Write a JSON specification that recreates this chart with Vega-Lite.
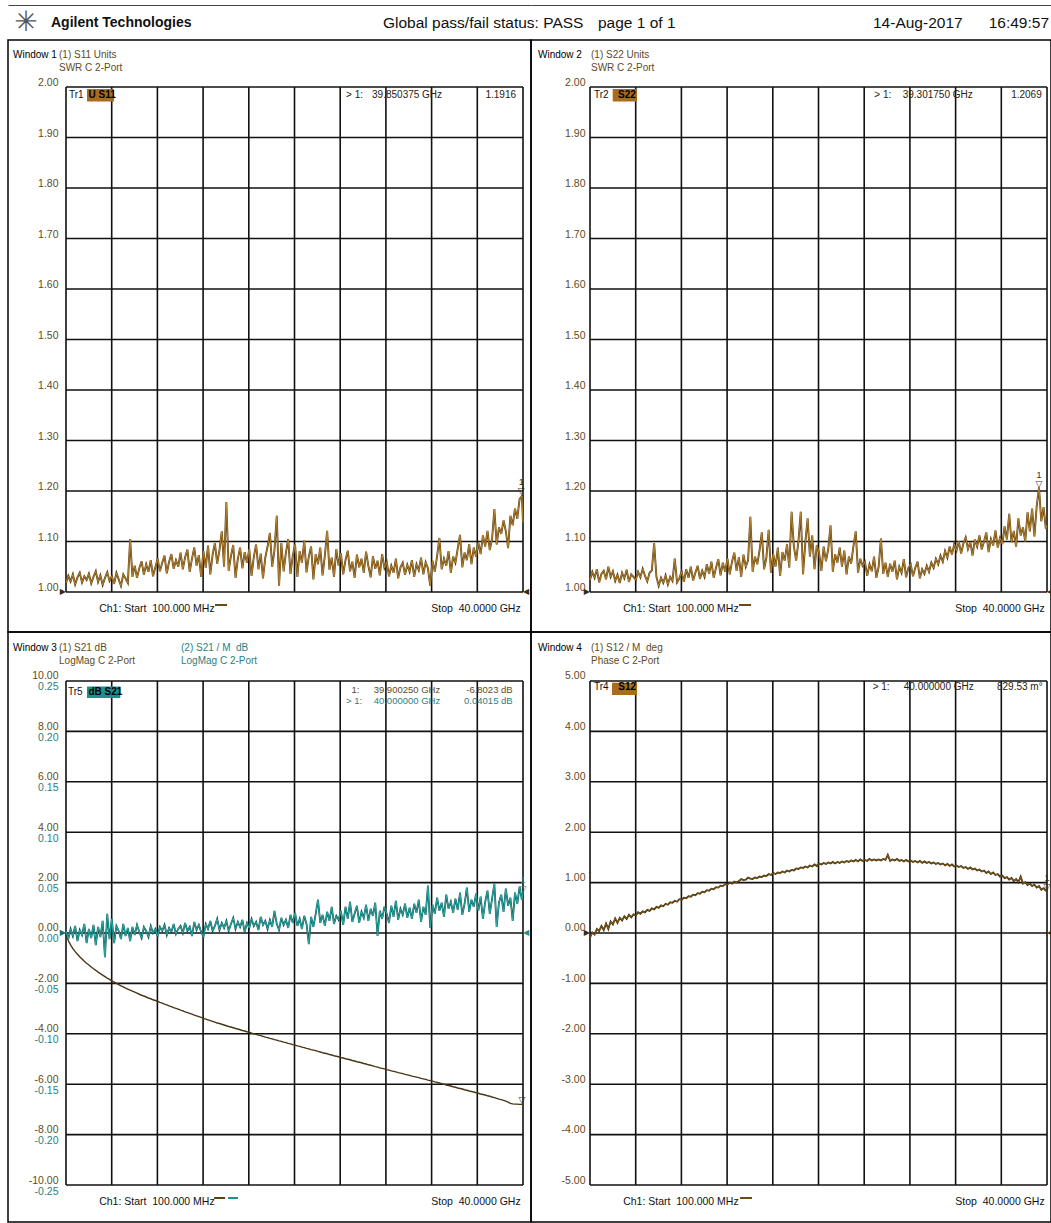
{
"$schema": "https://vega.github.io/schema/vega-lite/v6.json",
"background": "white",
"padding": {"left": 7, "top": 5, "right": 0, "bottom": 0},
"bounds": "flush",
"spacing": 0,
"columns": 2,
"config": {
  "font": "Liberation Sans",
  "view": {"stroke": "#000", "strokeWidth": 1.5},
  "axis": {"grid": false, "ticks": false, "domain": false, "labelFontSize": 10.5, "labelFont": "Liberation Sans"},
  "concat": {"spacing": 0}
},
"datasets": {
  "xgrid": [{"f":0.1},{"f":4.09},{"f":8.08},{"f":12.07},{"f":16.06},{"f":20.05},{"f":24.04},{"f":28.03},{"f":32.02},{"f":36.01},{"f":40}],
  "swrgrid": [{"v":1},{"v":1.1},{"v":1.2},{"v":1.3},{"v":1.4},{"v":1.5},{"v":1.6},{"v":1.7},{"v":1.8},{"v":1.9},{"v":2}],
  "dbgrid": [{"v":-10},{"v":-8},{"v":-6},{"v":-4},{"v":-2},{"v":0},{"v":2},{"v":4},{"v":6},{"v":8},{"v":10}],
  "deggrid": [{"v":-5},{"v":-4},{"v":-3},{"v":-2},{"v":-1},{"v":0},{"v":1},{"v":2},{"v":3},{"v":4},{"v":5}],
  "traces": [
{"f":0.1,"s11":1.018,"s22":1.024,"s21":-0.05,"s21m":0.002,"s12":-0.09},
{"f":0.3,"s11":1.032,"s22":1.04,"s21":-0.3,"s21m":-0.006,"s12":0.01},
{"f":0.5,"s11":1.021,"s22":1.028,"s21":-0.47,"s21m":0.004,"s12":-0.03},
{"f":0.7,"s11":1.035,"s22":1.045,"s21":-0.62,"s21m":-0.003,"s12":0.08},
{"f":0.9,"s11":1.015,"s22":1.019,"s21":-0.74,"s21m":0.007,"s12":0.04},
{"f":1.1,"s11":1.029,"s22":1.036,"s21":-0.84,"s21m":-0.008,"s12":0.14},
{"f":1.3,"s11":1.038,"s22":1.042,"s21":-0.94,"s21m":0.003,"s12":0.06},
{"f":1.5,"s11":1.019,"s22":1.025,"s21":-1.03,"s21m":-0.002,"s12":0.19},
{"f":1.7,"s11":1.031,"s22":1.05,"s21":-1.12,"s21m":0.009,"s12":0.08},
{"f":1.9,"s11":1.024,"s22":1.03,"s21":-1.2,"s21m":-0.01,"s12":0.23},
{"f":2.1,"s11":1.036,"s22":1.041,"s21":-1.27,"s21m":0.004,"s12":0.17},
{"f":2.3,"s11":1.017,"s22":1.022,"s21":-1.35,"s21m":-0.005,"s12":0.29},
{"f":2.5,"s11":1.03,"s22":1.034,"s21":-1.42,"s21m":0.008,"s12":0.2},
{"f":2.7,"s11":1.041,"s22":1.018,"s21":-1.48,"s21m":-0.012,"s12":0.3},
{"f":2.9,"s11":1.02,"s22":1.038,"s21":-1.55,"s21m":0.006,"s12":0.25},
{"f":3.1,"s11":1.033,"s22":1.027,"s21":-1.61,"s21m":-0.004,"s12":0.33},
{"f":3.3,"s11":1.014,"s22":1.044,"s21":-1.67,"s21m":0.012,"s12":0.28},
{"f":3.5,"s11":1.028,"s22":1.02,"s21":-1.73,"s21m":-0.024,"s12":0.36},
{"f":3.7,"s11":1.039,"s22":1.035,"s21":-1.79,"s21m":0.019,"s12":0.31},
{"f":3.9,"s11":1.022,"s22":1.03,"s21":-1.84,"s21m":-0.006,"s12":0.37},
{"f":4.1,"s11":1.031,"s22":1.024,"s21":-1.9,"s21m":0.014,"s12":0.35},
{"f":4.3,"s11":1.016,"s22":1.04,"s21":-1.95,"s21m":-0.01,"s12":0.41},
{"f":4.5,"s11":1.038,"s22":1.029,"s21":-2,"s21m":0.007,"s12":0.38},
{"f":4.7,"s11":1.025,"s22":1.046,"s21":-2.05,"s21m":0.002,"s12":0.43},
{"f":4.9,"s11":1.012,"s22":1.032,"s21":-2.1,"s21m":-0.006,"s12":0.41},
{"f":5.1,"s11":1.035,"s22":1.021,"s21":-2.14,"s21m":0.009,"s12":0.46},
{"f":5.3,"s11":1.027,"s22":1.038,"s21":-2.19,"s21m":-0.003,"s12":0.44},
{"f":5.5,"s11":1.018,"s22":1.043,"s21":-2.23,"s21m":0.005,"s12":0.49},
{"f":5.7,"s11":1.105,"s22":1.097,"s21":-2.27,"s21m":-0.008,"s12":0.47},
{"f":5.9,"s11":1.03,"s22":1.03,"s21":-2.31,"s21m":0.006,"s12":0.52},
{"f":6.1,"s11":1.052,"s22":1.012,"s21":-2.35,"s21m":-0.002,"s12":0.5},
{"f":6.3,"s11":1.028,"s22":1.028,"s21":-2.39,"s21m":0.008,"s12":0.55},
{"f":6.5,"s11":1.047,"s22":1.018,"s21":-2.43,"s21m":0.001,"s12":0.53},
{"f":6.7,"s11":1.061,"s22":1.033,"s21":-2.47,"s21m":-0.005,"s12":0.58},
{"f":6.9,"s11":1.034,"s22":1.015,"s21":-2.5,"s21m":0.006,"s12":0.56},
{"f":7.1,"s11":1.055,"s22":1.03,"s21":-2.54,"s21m":0.002,"s12":0.61},
{"f":7.3,"s11":1.04,"s22":1.022,"s21":-2.58,"s21m":-0.004,"s12":0.6},
{"f":7.5,"s11":1.063,"s22":1.066,"s21":-2.61,"s21m":0.007,"s12":0.64},
{"f":7.7,"s11":1.031,"s22":1.019,"s21":-2.65,"s21m":0,"s12":0.62},
{"f":7.9,"s11":1.049,"s22":1.027,"s21":-2.68,"s21m":0.004,"s12":0.67},
{"f":8.1,"s11":1.066,"s22":1.04,"s21":-2.71,"s21m":-0.003,"s12":0.66},
{"f":8.3,"s11":1.041,"s22":1.02,"s21":-2.75,"s21m":0.006,"s12":0.7},
{"f":8.5,"s11":1.058,"s22":1.045,"s21":-2.78,"s21m":0.002,"s12":0.69},
{"f":8.7,"s11":1.072,"s22":1.028,"s21":-2.82,"s21m":0.008,"s12":0.73},
{"f":8.9,"s11":1.037,"s22":1.05,"s21":-2.85,"s21m":-0.002,"s12":0.72},
{"f":9.1,"s11":1.06,"s22":1.023,"s21":-2.89,"s21m":0.005,"s12":0.76},
{"f":9.3,"s11":1.075,"s22":1.038,"s21":-2.92,"s21m":0.001,"s12":0.75},
{"f":9.5,"s11":1.046,"s22":1.052,"s21":-2.96,"s21m":0.009,"s12":0.79},
{"f":9.7,"s11":1.063,"s22":1.026,"s21":-2.99,"s21m":-0.001,"s12":0.78},
{"f":9.9,"s11":1.05,"s22":1.042,"s21":-3.02,"s21m":0.004,"s12":0.82},
{"f":10.1,"s11":1.078,"s22":1.03,"s21":-3.06,"s21m":0.007,"s12":0.81},
{"f":10.3,"s11":1.045,"s22":1.055,"s21":-3.09,"s21m":0,"s12":0.85},
{"f":10.5,"s11":1.069,"s22":1.036,"s21":-3.13,"s21m":0.01,"s12":0.84},
{"f":10.7,"s11":1.084,"s22":1.06,"s21":-3.16,"s21m":0.002,"s12":0.88},
{"f":10.9,"s11":1.04,"s22":1.028,"s21":-3.19,"s21m":0.006,"s12":0.87},
{"f":11.1,"s11":1.066,"s22":1.048,"s21":-3.22,"s21m":-0.003,"s12":0.91},
{"f":11.3,"s11":1.088,"s22":1.065,"s21":-3.26,"s21m":0.011,"s12":0.9},
{"f":11.5,"s11":1.052,"s22":1.033,"s21":-3.29,"s21m":0.003,"s12":0.94},
{"f":11.7,"s11":1.073,"s22":1.058,"s21":-3.32,"s21m":0.008,"s12":0.93},
{"f":11.9,"s11":1.03,"s22":1.04,"s21":-3.35,"s21m":0.001,"s12":0.97},
{"f":12.1,"s11":1.081,"s22":1.066,"s21":-3.39,"s21m":-0.004,"s12":0.96},
{"f":12.3,"s11":1.048,"s22":1.035,"s21":-3.42,"s21m":0.009,"s12":1},
{"f":12.5,"s11":1.092,"s22":1.06,"s21":-3.45,"s21m":0.004,"s12":0.98},
{"f":12.7,"s11":1.035,"s22":1.078,"s21":-3.48,"s21m":0.012,"s12":1.02},
{"f":12.9,"s11":1.074,"s22":1.042,"s21":-3.51,"s21m":0.002,"s12":1},
{"f":13.1,"s11":1.097,"s22":1.069,"s21":-3.54,"s21m":0.007,"s12":1.03},
{"f":13.3,"s11":1.056,"s22":1.03,"s21":-3.57,"s21m":0.014,"s12":1.07},
{"f":13.5,"s11":1.083,"s22":1.074,"s21":-3.59,"s21m":0.003,"s12":1.05},
{"f":13.7,"s11":1.12,"s22":1.05,"s21":-3.62,"s21m":0.01,"s12":1.06},
{"f":13.9,"s11":1.05,"s22":1.063,"s21":-3.65,"s21m":0.005,"s12":1.1},
{"f":14.1,"s11":1.178,"s22":1.149,"s21":-3.68,"s21m":0.012,"s12":1.08},
{"f":14.3,"s11":1.042,"s22":1.04,"s21":-3.71,"s21m":0.002,"s12":1.07},
{"f":14.5,"s11":1.071,"s22":1.07,"s21":-3.73,"s21m":0.009,"s12":1.1},
{"f":14.7,"s11":1.093,"s22":1.055,"s21":-3.76,"s21m":0.015,"s12":1.09},
{"f":14.9,"s11":1.028,"s22":1.082,"s21":-3.79,"s21m":0.004,"s12":1.12},
{"f":15.1,"s11":1.065,"s22":1.118,"s21":-3.81,"s21m":0.011,"s12":1.11},
{"f":15.3,"s11":1.088,"s22":1.045,"s21":-3.84,"s21m":0.006,"s12":1.14},
{"f":15.5,"s11":1.047,"s22":1.068,"s21":-3.87,"s21m":0.013,"s12":1.13},
{"f":15.7,"s11":1.079,"s22":1.123,"s21":-3.89,"s21m":0.001,"s12":1.17},
{"f":15.9,"s11":1.058,"s22":1.038,"s21":-3.92,"s21m":0.01,"s12":1.15},
{"f":16.1,"s11":1.085,"s22":1.075,"s21":-3.94,"s21m":0.005,"s12":1.19},
{"f":16.3,"s11":1.032,"s22":1.05,"s21":-3.97,"s21m":0.014,"s12":1.17},
{"f":16.5,"s11":1.07,"s22":1.088,"s21":-4,"s21m":0.007,"s12":1.2},
{"f":16.7,"s11":1.094,"s22":1.032,"s21":-4.02,"s21m":0.011,"s12":1.19},
{"f":16.9,"s11":1.045,"s22":1.079,"s21":-4.05,"s21m":0.003,"s12":1.22},
{"f":17.1,"s11":1.076,"s22":1.062,"s21":-4.07,"s21m":0.016,"s12":1.2},
{"f":17.3,"s11":1.027,"s22":1.095,"s21":-4.1,"s21m":0.008,"s12":1.24},
{"f":17.5,"s11":1.068,"s22":1.048,"s21":-4.13,"s21m":0.012,"s12":1.22},
{"f":17.7,"s11":1.09,"s22":1.159,"s21":-4.15,"s21m":0.004,"s12":1.25},
{"f":17.9,"s11":1.117,"s22":1.09,"s21":-4.18,"s21m":0.013,"s12":1.24},
{"f":18.1,"s11":1.05,"s22":1.062,"s21":-4.2,"s21m":0.006,"s12":1.28},
{"f":18.3,"s11":1.083,"s22":1.101,"s21":-4.23,"s21m":0.022,"s12":1.27},
{"f":18.5,"s11":1.151,"s22":1.159,"s21":-4.25,"s21m":0.009,"s12":1.3},
{"f":18.7,"s11":1.012,"s22":1.035,"s21":-4.28,"s21m":0.003,"s12":1.29},
{"f":18.9,"s11":1.097,"s22":1.098,"s21":-4.3,"s21m":0.015,"s12":1.32},
{"f":19.1,"s11":1.041,"s22":1.146,"s21":-4.33,"s21m":0.008,"s12":1.3},
{"f":19.3,"s11":1.078,"s22":1.07,"s21":-4.35,"s21m":0.013,"s12":1.34},
{"f":19.5,"s11":1.105,"s22":1.112,"s21":-4.38,"s21m":0.005,"s12":1.32},
{"f":19.7,"s11":1.036,"s22":1.045,"s21":-4.4,"s21m":0.018,"s12":1.36},
{"f":19.9,"s11":1.072,"s22":1.093,"s21":-4.43,"s21m":0.01,"s12":1.33},
{"f":20.1,"s11":1.094,"s22":1.078,"s21":-4.45,"s21m":0.02,"s12":1.38},
{"f":20.3,"s11":1.03,"s22":1.042,"s21":-4.48,"s21m":0.007,"s12":1.36},
{"f":20.5,"s11":1.081,"s22":1.09,"s21":-4.5,"s21m":0.014,"s12":1.39},
{"f":20.7,"s11":1.058,"s22":1.061,"s21":-4.53,"s21m":0.004,"s12":1.37},
{"f":20.9,"s11":1.102,"s22":1.085,"s21":-4.55,"s21m":0.017,"s12":1.4},
{"f":21.1,"s11":1.039,"s22":1.132,"s21":-4.58,"s21m":0.009,"s12":1.38},
{"f":21.3,"s11":1.07,"s22":1.04,"s21":-4.6,"s21m":-0.011,"s12":1.41},
{"f":21.5,"s11":1.09,"s22":1.075,"s21":-4.63,"s21m":0.016,"s12":1.38},
{"f":21.7,"s11":1.025,"s22":1.058,"s21":-4.65,"s21m":0.006,"s12":1.41},
{"f":21.9,"s11":1.075,"s22":1.088,"s21":-4.67,"s21m":0.019,"s12":1.39},
{"f":22.1,"s11":1.055,"s22":1.05,"s21":-4.7,"s21m":0.033,"s12":1.42},
{"f":22.3,"s11":1.088,"s22":1.082,"s21":-4.72,"s21m":0.01,"s12":1.4},
{"f":22.5,"s11":1.033,"s22":1.035,"s21":-4.75,"s21m":0.018,"s12":1.43},
{"f":22.7,"s11":1.072,"s22":1.07,"s21":-4.77,"s21m":0.007,"s12":1.41},
{"f":22.9,"s11":1.121,"s22":1.056,"s21":-4.79,"s21m":0.021,"s12":1.44},
{"f":23.1,"s11":1.044,"s22":1.091,"s21":-4.82,"s21m":0.012,"s12":1.42},
{"f":23.3,"s11":1.068,"s22":1.12,"s21":-4.84,"s21m":0.026,"s12":1.45},
{"f":23.5,"s11":1.03,"s22":1.038,"s21":-4.87,"s21m":0.009,"s12":1.42},
{"f":23.7,"s11":1.085,"s22":1.066,"s21":-4.89,"s21m":0.017,"s12":1.46},
{"f":23.9,"s11":1.052,"s22":1.052,"s21":-4.91,"s21m":0.013,"s12":1.43},
{"f":24.1,"s11":1.077,"s22":1.06,"s21":-4.94,"s21m":0.022,"s12":1.45},
{"f":24.3,"s11":1.035,"s22":1.032,"s21":-4.96,"s21m":0.008,"s12":1.43},
{"f":24.5,"s11":1.063,"s22":1.055,"s21":-4.99,"s21m":0.026,"s12":1.47},
{"f":24.7,"s11":1.082,"s22":1.041,"s21":-5.01,"s21m":0.014,"s12":1.44},
{"f":24.9,"s11":1.041,"s22":1.07,"s21":-5.03,"s21m":0.031,"s12":1.46},
{"f":25.1,"s11":1.06,"s22":1.028,"s21":-5.06,"s21m":0.011,"s12":1.44},
{"f":25.3,"s11":1.028,"s22":1.05,"s21":-5.08,"s21m":0.019,"s12":1.46},
{"f":25.5,"s11":1.074,"s22":1.106,"s21":-5.11,"s21m":0.027,"s12":1.44},
{"f":25.7,"s11":1.049,"s22":1.036,"s21":-5.13,"s21m":0.01,"s12":1.47},
{"f":25.9,"s11":1.066,"s22":1.058,"s21":-5.15,"s21m":0.021,"s12":1.45},
{"f":26.1,"s11":1.038,"s22":1.03,"s21":-5.18,"s21m":0.015,"s12":1.55},
{"f":26.3,"s11":1.08,"s22":1.056,"s21":-5.2,"s21m":0.028,"s12":1.43},
{"f":26.5,"s11":1.052,"s22":1.04,"s21":-5.23,"s21m":0.012,"s12":1.46},
{"f":26.7,"s11":1.029,"s22":1.062,"s21":-5.25,"s21m":0.024,"s12":1.44},
{"f":26.9,"s11":1.071,"s22":1.025,"s21":-5.27,"s21m":0.017,"s12":1.47},
{"f":27.1,"s11":1.046,"s22":1.05,"s21":-5.3,"s21m":0.03,"s12":1.43},
{"f":27.3,"s11":1.062,"s22":1.038,"s21":-5.32,"s21m":-0.003,"s12":1.45},
{"f":27.5,"s11":1.033,"s22":1.065,"s21":-5.35,"s21m":0.022,"s12":1.42},
{"f":27.7,"s11":1.075,"s22":1.029,"s21":-5.37,"s21m":0.014,"s12":1.45},
{"f":27.9,"s11":1.048,"s22":1.048,"s21":-5.39,"s21m":0.026,"s12":1.42},
{"f":28.1,"s11":1.06,"s22":1.055,"s21":-5.42,"s21m":0.019,"s12":1.44},
{"f":28.3,"s11":1.031,"s22":1.031,"s21":-5.44,"s21m":0.01,"s12":1.41},
{"f":28.5,"s11":1.052,"s22":1.048,"s21":-5.47,"s21m":0.027,"s12":1.43},
{"f":28.7,"s11":1.038,"s22":1.06,"s21":-5.49,"s21m":0.016,"s12":1.4},
{"f":28.9,"s11":1.066,"s22":1.027,"s21":-5.51,"s21m":0.032,"s12":1.43},
{"f":29.1,"s11":1.027,"s22":1.045,"s21":-5.54,"s21m":0.013,"s12":1.39},
{"f":29.3,"s11":1.049,"s22":1.036,"s21":-5.56,"s21m":0.024,"s12":1.42},
{"f":29.5,"s11":1.058,"s22":1.052,"s21":-5.58,"s21m":0.018,"s12":1.39},
{"f":29.7,"s11":1.034,"s22":1.04,"s21":-5.61,"s21m":0.029,"s12":1.41},
{"f":29.9,"s11":1.054,"s22":1.058,"s21":-5.63,"s21m":0.015,"s12":1.38},
{"f":30.1,"s11":1.04,"s22":1.048,"s21":-5.65,"s21m":0.025,"s12":1.4},
{"f":30.3,"s11":1.063,"s22":1.066,"s21":-5.68,"s21m":0.014,"s12":1.37},
{"f":30.5,"s11":1.03,"s22":1.055,"s21":-5.7,"s21m":0.029,"s12":1.39},
{"f":30.7,"s11":1.055,"s22":1.072,"s21":-5.72,"s21m":0.02,"s12":1.36},
{"f":30.9,"s11":1.043,"s22":1.06,"s21":-5.74,"s21m":0.033,"s12":1.38},
{"f":31.1,"s11":1.068,"s22":1.081,"s21":-5.77,"s21m":0.011,"s12":1.34},
{"f":31.3,"s11":1.035,"s22":1.068,"s21":-5.79,"s21m":0.026,"s12":1.37},
{"f":31.5,"s11":1.059,"s22":1.09,"s21":-5.81,"s21m":0.018,"s12":1.33},
{"f":31.7,"s11":1.047,"s22":1.074,"s21":-5.84,"s21m":0.047,"s12":1.36},
{"f":31.9,"s11":1.012,"s22":1.095,"s21":-5.86,"s21m":0.005,"s12":1.32},
{"f":32.1,"s11":1.062,"s22":1.082,"s21":-5.88,"s21m":0.028,"s12":1.34},
{"f":32.3,"s11":1.04,"s22":1.1,"s21":-5.91,"s21m":0.019,"s12":1.31},
{"f":32.5,"s11":1.071,"s22":1.076,"s21":-5.93,"s21m":0.035,"s12":1.33},
{"f":32.7,"s11":1.107,"s22":1.096,"s21":-5.95,"s21m":0.022,"s12":1.29},
{"f":32.9,"s11":1.045,"s22":1.108,"s21":-5.98,"s21m":0.03,"s12":1.31},
{"f":33.1,"s11":1.066,"s22":1.085,"s21":-6,"s21m":0.016,"s12":1.27},
{"f":33.3,"s11":1.052,"s22":1.099,"s21":-6.03,"s21m":0.038,"s12":1.3},
{"f":33.5,"s11":1.081,"s22":1.072,"s21":-6.05,"s21m":0.024,"s12":1.26},
{"f":33.7,"s11":1.038,"s22":1.104,"s21":-6.07,"s21m":0.031,"s12":1.28},
{"f":33.9,"s11":1.07,"s22":1.09,"s21":-6.1,"s21m":0.02,"s12":1.24},
{"f":34.1,"s11":1.058,"s22":1.112,"s21":-6.12,"s21m":0.034,"s12":1.26},
{"f":34.3,"s11":1.086,"s22":1.084,"s21":-6.15,"s21m":0.023,"s12":1.22},
{"f":34.5,"s11":1.113,"s22":1.1,"s21":-6.17,"s21m":0.04,"s12":1.24},
{"f":34.7,"s11":1.049,"s22":1.118,"s21":-6.19,"s21m":0.018,"s12":1.19},
{"f":34.9,"s11":1.078,"s22":1.079,"s21":-6.22,"s21m":0.029,"s12":1.22},
{"f":35.1,"s11":1.063,"s22":1.105,"s21":-6.24,"s21m":0.045,"s12":1.17},
{"f":35.3,"s11":1.095,"s22":1.092,"s21":-6.27,"s21m":0.021,"s12":1.2},
{"f":35.5,"s11":1.055,"s22":1.122,"s21":-6.29,"s21m":0.033,"s12":1.15},
{"f":35.7,"s11":1.088,"s22":1.088,"s21":-6.31,"s21m":0.026,"s12":1.17},
{"f":35.9,"s11":1.07,"s22":1.107,"s21":-6.34,"s21m":0.039,"s12":1.12},
{"f":36.1,"s11":1.098,"s22":1.095,"s21":-6.36,"s21m":0.022,"s12":1.14},
{"f":36.3,"s11":1.075,"s22":1.13,"s21":-6.39,"s21m":0.036,"s12":1.09},
{"f":36.5,"s11":1.112,"s22":1.104,"s21":-6.41,"s21m":0.014,"s12":1.11},
{"f":36.7,"s11":1.09,"s22":1.155,"s21":-6.43,"s21m":0.031,"s12":1.06},
{"f":36.9,"s11":1.121,"s22":1.098,"s21":-6.46,"s21m":0.042,"s12":1.09},
{"f":37.1,"s11":1.083,"s22":1.121,"s21":-6.48,"s21m":0.019,"s12":1.03},
{"f":37.3,"s11":1.105,"s22":1.09,"s21":-6.51,"s21m":0.034,"s12":1.07},
{"f":37.5,"s11":1.164,"s22":1.146,"s21":-6.53,"s21m":0.049,"s12":1.01},
{"f":37.7,"s11":1.094,"s22":1.112,"s21":-6.56,"s21m":0.006,"s12":1.12},
{"f":37.9,"s11":1.128,"s22":1.128,"s21":-6.59,"s21m":0.03,"s12":0.98},
{"f":38.1,"s11":1.115,"s22":1.1,"s21":-6.61,"s21m":0.038,"s12":1.01},
{"f":38.3,"s11":1.142,"s22":1.158,"s21":-6.64,"s21m":0.021,"s12":0.95},
{"f":38.5,"s11":1.12,"s22":1.12,"s21":-6.67,"s21m":0.044,"s12":0.98},
{"f":38.7,"s11":1.087,"s22":1.165,"s21":-6.71,"s21m":0.027,"s12":0.93},
{"f":38.9,"s11":1.151,"s22":1.11,"s21":-6.76,"s21m":0.035,"s12":0.96},
{"f":39.1,"s11":1.132,"s22":1.17,"s21":-6.78,"s21m":0.012,"s12":0.9},
{"f":39.3,"s11":1.165,"s22":1.207,"s21":-6.79,"s21m":0.04,"s12":0.93},
{"f":39.5,"s11":1.145,"s22":1.14,"s21":-6.79,"s21m":0.029,"s12":0.86},
{"f":39.7,"s11":1.184,"s22":1.168,"s21":-6.8,"s21m":0.046,"s12":0.89},
{"f":39.9,"s11":1.19,"s22":1.125,"s21":-6.8,"s21m":0.033,"s12":0.84},
{"f":40,"s11":1.138,"s22":1.132,"s21":-6.81,"s21m":0.04,"s12":0.83}
  ]
},
"concat": [
  {
    "width": 523, "height": 35,
    "view": {"stroke": null},
    "data": {"values": [{}]},
    "encoding": {"y": {"datum": 0.5, "type": "quantitative", "scale": {"domain": [0, 1], "nice": false, "zero": false}, "axis": null}},
    "layer": [
      {"mark": {"type": "text", "text": "✳", "fontSize": 28, "color": "#555", "align": "center", "baseline": "middle", "font": "DejaVu Sans"},
       "encoding": {"x": {"datum": 0.0344, "type": "quantitative", "scale": {"domain": [0, 1], "nice": false, "zero": false},
         "axis": {"orient": "top", "domain": true, "domainColor": "#444", "domainWidth": 1.2, "labels": false, "ticks": false, "grid": false, "title": null}}}},
      {"mark": {"type": "text", "text": "Agilent Technologies", "fontSize": 14, "fontWeight": "bold", "color": "#111", "align": "left", "baseline": "middle"},
       "encoding": {"x": {"datum": 0.0822, "type": "quantitative"}}},
      {"mark": {"type": "text", "text": "Global pass/fail status: PASS", "fontSize": 15.5, "color": "#111", "align": "left", "baseline": "middle"},
       "encoding": {"x": {"datum": 0.717, "type": "quantitative"}}}
    ]
  },
  {
    "width": 520, "height": 35,
    "view": {"stroke": null},
    "data": {"values": [{}]},
    "encoding": {"y": {"datum": 0.5, "type": "quantitative", "scale": {"domain": [0, 1], "nice": false, "zero": false}, "axis": null}},
    "layer": [
      {"mark": {"type": "text", "text": "page 1 of 1", "fontSize": 15.5, "color": "#111", "align": "left", "baseline": "middle"},
       "encoding": {"x": {"datum": 0.1288, "type": "quantitative", "scale": {"domain": [0, 1], "nice": false, "zero": false},
         "axis": {"orient": "top", "domain": true, "domainColor": "#444", "domainWidth": 1.2, "labels": false, "ticks": false, "grid": false, "title": null}}}},
      {"mark": {"type": "text", "text": "14-Aug-2017", "fontSize": 15.5, "color": "#111", "align": "left", "baseline": "middle"},
       "encoding": {"x": {"datum": 0.6577, "type": "quantitative"}}},
      {"mark": {"type": "text", "text": "16:49:57", "fontSize": 15.5, "color": "#111", "align": "right", "baseline": "middle"},
       "encoding": {"x": {"datum": 0.9962, "type": "quantitative"}}}
    ]
  },
  {
    "width": 523, "height": 592,
    "layer": [
      {"data": {"name": "xgrid"}, "mark": {"type": "rule", "color": "#111", "strokeWidth": 1.6},
       "encoding": {
         "x": {"field": "f", "type": "quantitative", "scale": {"domain": [-4.964, 40.698], "nice": false, "zero": false},
           "axis": {"values": [2.95, 39.75], "orient": "bottom", "offset": -24, "labelPadding": 0, "labelBaseline": "middle", "labelColor": "#111", "labelAlign": {"condition": {"test": "datum.value < 20", "value": "left"}, "value": "right"}, "labelExpr": "datum.value < 20 ? 'Ch1: Start\u00a0 100.000 MHz' : 'Stop\u00a0 40.0000 GHz'", "labelFlush": false, "labelOverlap": false, "labelBound": false, "title": null}},
         "y": {"datum": 2, "type": "quantitative", "scale": {"domain": [0.9208, 2.0931], "nice": false, "zero": false},
           "axis": {"values": [1, 1.1, 1.2, 1.3, 1.4, 1.5, 1.6, 1.7, 1.8, 1.9, 2], "format": ".2f", "orient": "left", "offset": -50, "labelPadding": 0, "labelBaseline": "alphabetic", "labelOffset": -1.5, "labelColor": "#5e4b1e", "labelFlush": false, "labelOverlap": false, "labelBound": false, "title": null}},
         "y2": {"datum": 1}}},
      {"data": {"name": "swrgrid"}, "mark": {"type": "rule", "color": "#111", "strokeWidth": 1.6},
       "encoding": {"y": {"field": "v", "type": "quantitative"}, "x": {"datum": 0.1, "type": "quantitative"}, "x2": {"datum": 40}}},
      {"data": {"name": "traces"}, "mark": {"type": "line", "color": "#5a3c0a", "strokeWidth": 1.9},
       "encoding": {"x": {"field": "f", "type": "quantitative"}, "y": {"field": "s11", "type": "quantitative"}}},
      {"data": {"name": "traces"}, "mark": {"type": "line", "color": "#c8923a", "strokeWidth": 0.8},
       "encoding": {"x": {"field": "f", "type": "quantitative"}, "y": {"field": "s11", "type": "quantitative"}}},
      {"data": {"values": [{}]}, "layer": [
        {"mark": {"type": "rect", "fill": "#a86c1e"}, "encoding": {"x": {"datum": 1.933, "type": "quantitative"}, "x2": {"datum": 4.291}, "y": {"datum": 1.996, "type": "quantitative"}, "y2": {"datum": 1.9713}}},
        {"mark": {"type": "text", "text": "Window 1", "align": "left", "baseline": "middle", "fontSize": 10, "color": "#000"}, "encoding": {"x": {"datum": -4.527, "type": "quantitative"}, "y": {"datum": 2.0634, "type": "quantitative"}}},
        {"mark": {"type": "text", "text": "(1) S11 Units", "align": "left", "baseline": "middle", "fontSize": 10, "color": "#5e4b1e"}, "encoding": {"x": {"datum": -0.511, "type": "quantitative"}, "y": {"datum": 2.0634, "type": "quantitative"}}},
        {"mark": {"type": "text", "text": "SWR C 2-Port", "align": "left", "baseline": "middle", "fontSize": 10, "color": "#5e4b1e"}, "encoding": {"x": {"datum": -0.511, "type": "quantitative"}, "y": {"datum": 2.0386, "type": "quantitative"}}},
        {"mark": {"type": "text", "text": "Tr1", "align": "left", "baseline": "middle", "fontSize": 10, "color": "#111"}, "encoding": {"x": {"datum": 0.362, "type": "quantitative"}, "y": {"datum": 1.9842, "type": "quantitative"}}},
        {"mark": {"type": "text", "text": "U S11", "align": "left", "baseline": "middle", "fontSize": 10, "fontWeight": "bold", "color": "#000"}, "encoding": {"x": {"datum": 2.064, "type": "quantitative"}, "y": {"datum": 1.9842, "type": "quantitative"}}},
        {"mark": {"type": "text", "text": "> 1:", "align": "left", "baseline": "middle", "fontSize": 10, "color": "#2a2010"}, "encoding": {"x": {"datum": 24.55, "type": "quantitative"}, "y": {"datum": 1.9842, "type": "quantitative"}}},
        {"mark": {"type": "text", "text": "39.850375 GHz", "align": "left", "baseline": "middle", "fontSize": 10, "color": "#2a2010"}, "encoding": {"x": {"datum": 26.82, "type": "quantitative"}, "y": {"datum": 1.9842, "type": "quantitative"}}},
        {"mark": {"type": "text", "text": "1.1916", "align": "right", "baseline": "middle", "fontSize": 10, "color": "#2a2010"}, "encoding": {"x": {"datum": 39.39, "type": "quantitative"}, "y": {"datum": 1.9842, "type": "quantitative"}}},
        {"mark": {"type": "text", "text": "▽", "align": "center", "baseline": "bottom", "fontSize": 9, "color": "#3a2a10", "font": "DejaVu Sans", "dy": 1}, "encoding": {"x": {"datum": 39.85, "type": "quantitative"}, "y": {"datum": 1.1916, "type": "quantitative"}}},
        {"mark": {"type": "text", "text": "1", "align": "center", "baseline": "bottom", "fontSize": 9, "color": "#3a2a10", "dy": -8}, "encoding": {"x": {"datum": 39.85, "type": "quantitative"}, "y": {"datum": 1.1916, "type": "quantitative"}}},
        {"mark": {"type": "text", "text": "▶", "align": "right", "baseline": "middle", "fontSize": 8, "color": "#3a2a10", "font": "DejaVu Sans"}, "encoding": {"x": {"datum": 0.1, "type": "quantitative"}, "y": {"datum": 1, "type": "quantitative"}}},
        {"mark": {"type": "text", "text": "◀", "align": "left", "baseline": "middle", "fontSize": 8, "color": "#3a2a10", "font": "DejaVu Sans"}, "encoding": {"x": {"datum": 40, "type": "quantitative"}, "y": {"datum": 1, "type": "quantitative"}}},
        {"mark": {"type": "rule", "color": "#6b4a10", "strokeWidth": 2}, "encoding": {"x": {"datum": 13.11, "type": "quantitative"}, "x2": {"datum": 14.16}, "y": {"datum": 0.9743, "type": "quantitative"}}}
      ]}
    ]
  },
  {
    "width": 520, "height": 592,
    "layer": [
      {"data": {"name": "xgrid"}, "mark": {"type": "rule", "color": "#111", "strokeWidth": 1.6},
       "encoding": {
         "x": {"field": "f", "type": "quantitative", "scale": {"domain": [-5.051, 40.348], "nice": false, "zero": false},
           "axis": {"values": [2.95, 39.75], "orient": "bottom", "offset": -24, "labelPadding": 0, "labelBaseline": "middle", "labelColor": "#111", "labelAlign": {"condition": {"test": "datum.value < 20", "value": "left"}, "value": "right"}, "labelExpr": "datum.value < 20 ? 'Ch1: Start\u00a0 100.000 MHz' : 'Stop\u00a0 40.0000 GHz'", "labelFlush": false, "labelOverlap": false, "labelBound": false, "title": null}},
         "y": {"datum": 2, "type": "quantitative", "scale": {"domain": [0.9208, 2.0931], "nice": false, "zero": false},
           "axis": {"values": [1, 1.1, 1.2, 1.3, 1.4, 1.5, 1.6, 1.7, 1.8, 1.9, 2], "format": ".2f", "orient": "left", "offset": -54, "labelPadding": 0, "labelBaseline": "alphabetic", "labelOffset": -1.5, "labelColor": "#5e4b1e", "labelFlush": false, "labelOverlap": false, "labelBound": false, "title": null}},
         "y2": {"datum": 1}}},
      {"data": {"name": "swrgrid"}, "mark": {"type": "rule", "color": "#111", "strokeWidth": 1.6},
       "encoding": {"y": {"field": "v", "type": "quantitative"}, "x": {"datum": 0.1, "type": "quantitative"}, "x2": {"datum": 40}}},
      {"data": {"name": "traces"}, "mark": {"type": "line", "color": "#5a3c0a", "strokeWidth": 1.9},
       "encoding": {"x": {"field": "f", "type": "quantitative"}, "y": {"field": "s22", "type": "quantitative"}}},
      {"data": {"name": "traces"}, "mark": {"type": "line", "color": "#c8923a", "strokeWidth": 0.8},
       "encoding": {"x": {"field": "f", "type": "quantitative"}, "y": {"field": "s22", "type": "quantitative"}}},
      {"data": {"values": [{}]}, "layer": [
        {"mark": {"type": "rect", "fill": "#a86c1e"}, "encoding": {"x": {"datum": 2.082, "type": "quantitative"}, "x2": {"datum": 4.203}, "y": {"datum": 1.996, "type": "quantitative"}, "y2": {"datum": 1.9713}}},
        {"mark": {"type": "text", "text": "Window 2", "align": "left", "baseline": "middle", "fontSize": 10, "color": "#000"}, "encoding": {"x": {"datum": -4.44, "type": "quantitative"}, "y": {"datum": 2.0634, "type": "quantitative"}}},
        {"mark": {"type": "text", "text": "(1) S22 Units", "align": "left", "baseline": "middle", "fontSize": 10, "color": "#5e4b1e"}, "encoding": {"x": {"datum": 0.187, "type": "quantitative"}, "y": {"datum": 2.0634, "type": "quantitative"}}},
        {"mark": {"type": "text", "text": "SWR C 2-Port", "align": "left", "baseline": "middle", "fontSize": 10, "color": "#5e4b1e"}, "encoding": {"x": {"datum": 0.187, "type": "quantitative"}, "y": {"datum": 2.0386, "type": "quantitative"}}},
        {"mark": {"type": "text", "text": "Tr2", "align": "left", "baseline": "middle", "fontSize": 10, "color": "#111"}, "encoding": {"x": {"datum": 0.449, "type": "quantitative"}, "y": {"datum": 1.9842, "type": "quantitative"}}},
        {"mark": {"type": "text", "text": "S22", "align": "left", "baseline": "middle", "fontSize": 10, "fontWeight": "bold", "color": "#000"}, "encoding": {"x": {"datum": 2.545, "type": "quantitative"}, "y": {"datum": 1.9842, "type": "quantitative"}}},
        {"mark": {"type": "text", "text": "> 1:", "align": "left", "baseline": "middle", "fontSize": 10, "color": "#2a2010"}, "encoding": {"x": {"datum": 24.92, "type": "quantitative"}, "y": {"datum": 1.9842, "type": "quantitative"}}},
        {"mark": {"type": "text", "text": "39.301750 GHz", "align": "left", "baseline": "middle", "fontSize": 10, "color": "#2a2010"}, "encoding": {"x": {"datum": 27.4, "type": "quantitative"}, "y": {"datum": 1.9842, "type": "quantitative"}}},
        {"mark": {"type": "text", "text": "1.2069", "align": "right", "baseline": "middle", "fontSize": 10, "color": "#2a2010"}, "encoding": {"x": {"datum": 39.54, "type": "quantitative"}, "y": {"datum": 1.9842, "type": "quantitative"}}},
        {"mark": {"type": "text", "text": "▽", "align": "center", "baseline": "bottom", "fontSize": 9, "color": "#3a2a10", "font": "DejaVu Sans", "dy": 1}, "encoding": {"x": {"datum": 39.30175, "type": "quantitative"}, "y": {"datum": 1.2069, "type": "quantitative"}}},
        {"mark": {"type": "text", "text": "1", "align": "center", "baseline": "bottom", "fontSize": 9, "color": "#3a2a10", "dy": -8}, "encoding": {"x": {"datum": 39.30175, "type": "quantitative"}, "y": {"datum": 1.2069, "type": "quantitative"}}},
        {"mark": {"type": "text", "text": "▶", "align": "right", "baseline": "middle", "fontSize": 8, "color": "#3a2a10", "font": "DejaVu Sans"}, "encoding": {"x": {"datum": 0.1, "type": "quantitative"}, "y": {"datum": 1, "type": "quantitative"}}},
        {"mark": {"type": "text", "text": "◀", "align": "left", "baseline": "middle", "fontSize": 8, "color": "#3a2a10", "font": "DejaVu Sans"}, "encoding": {"x": {"datum": 40, "type": "quantitative"}, "y": {"datum": 1, "type": "quantitative"}}},
        {"mark": {"type": "rule", "color": "#6b4a10", "strokeWidth": 2}, "encoding": {"x": {"datum": 13.11, "type": "quantitative"}, "x2": {"datum": 14.16}, "y": {"datum": 0.9743, "type": "quantitative"}}}
      ]}
    ]
  },
  {
    "width": 523, "height": 590,
    "resolve": {"scale": {"y": "independent"}},
    "layer": [
      {"layer": [
        {"data": {"name": "xgrid"}, "mark": {"type": "rule", "color": "#111", "strokeWidth": 1.6},
         "encoding": {
           "x": {"field": "f", "type": "quantitative", "scale": {"domain": [-4.964, 40.698], "nice": false, "zero": false},
             "axis": {"values": [2.95, 39.75], "orient": "bottom", "offset": -21, "labelPadding": 0, "labelBaseline": "middle", "labelColor": "#111", "labelAlign": {"condition": {"test": "datum.value < 20", "value": "left"}, "value": "right"}, "labelExpr": "datum.value < 20 ? 'Ch1: Start\u00a0 100.000 MHz' : 'Stop\u00a0 40.0000 GHz'", "labelFlush": false, "labelOverlap": false, "labelBound": false, "title": null}},
           "y": {"datum": 10, "type": "quantitative", "scale": {"domain": [-11.468, 11.944], "nice": false, "zero": false},
             "axis": {"values": [-10, -8, -6, -4, -2, 0, 2, 4, 6, 8, 10], "format": ".2f", "labelExpr": "replace(format(datum.value, '.2f'), '−', '-')", "orient": "left", "offset": -50, "labelPadding": 0, "labelBaseline": "alphabetic", "labelOffset": -2, "labelColor": "#5e4b1e", "labelFlush": false, "labelOverlap": false, "labelBound": false, "title": null}},
           "y2": {"datum": -10}}},
        {"data": {"name": "dbgrid"}, "mark": {"type": "rule", "color": "#111", "strokeWidth": 1.6},
         "encoding": {"y": {"field": "v", "type": "quantitative"}, "x": {"datum": 0.1, "type": "quantitative"}, "x2": {"datum": 40}}},
        {"data": {"name": "traces"}, "mark": {"type": "line", "color": "#4a3514", "strokeWidth": 1.4},
         "encoding": {"x": {"field": "f", "type": "quantitative"}, "y": {"field": "s21", "type": "quantitative"}}},
        {"data": {"values": [{}]}, "layer": [
          {"mark": {"type": "rect", "fill": "#1e8f8c"}, "encoding": {"x": {"datum": 1.933, "type": "quantitative"}, "x2": {"datum": 4.841}, "y": {"datum": 9.7817, "type": "quantitative"}, "y2": {"datum": 9.3254}}},
          {"mark": {"type": "text", "text": "Window 3", "align": "left", "baseline": "middle", "fontSize": 10, "color": "#000"}, "encoding": {"x": {"datum": -4.527, "type": "quantitative"}, "y": {"datum": 11.3095, "type": "quantitative"}}},
          {"mark": {"type": "text", "text": "(1) S21 dB", "align": "left", "baseline": "middle", "fontSize": 10, "color": "#5e4b1e"}, "encoding": {"x": {"datum": -0.511, "type": "quantitative"}, "y": {"datum": 11.3095, "type": "quantitative"}}},
          {"mark": {"type": "text", "text": "LogMag C 2-Port", "align": "left", "baseline": "middle", "fontSize": 10, "color": "#5e4b1e"}, "encoding": {"x": {"datum": -0.511, "type": "quantitative"}, "y": {"datum": 10.7937, "type": "quantitative"}}},
          {"mark": {"type": "text", "text": "(2) S21 / M\u00a0 dB", "align": "left", "baseline": "middle", "fontSize": 10, "color": "#2b7f7f"}, "encoding": {"x": {"datum": 10.14, "type": "quantitative"}, "y": {"datum": 11.3095, "type": "quantitative"}}},
          {"mark": {"type": "text", "text": "LogMag C 2-Port", "align": "left", "baseline": "middle", "fontSize": 10, "color": "#2b7f7f"}, "encoding": {"x": {"datum": 10.14, "type": "quantitative"}, "y": {"datum": 10.7937, "type": "quantitative"}}},
          {"mark": {"type": "text", "text": "Tr5", "align": "left", "baseline": "middle", "fontSize": 10, "color": "#111"}, "encoding": {"x": {"datum": 0.275, "type": "quantitative"}, "y": {"datum": 9.5437, "type": "quantitative"}}},
          {"mark": {"type": "text", "text": "dB S21", "align": "left", "baseline": "middle", "fontSize": 10, "fontWeight": "bold", "color": "#000"}, "encoding": {"x": {"datum": 2.064, "type": "quantitative"}, "y": {"datum": 9.5437, "type": "quantitative"}}},
          {"mark": {"type": "text", "text": "1:", "align": "right", "baseline": "middle", "fontSize": 9.5, "color": "#5e4b1e"}, "encoding": {"x": {"datum": 25.71, "type": "quantitative"}, "y": {"datum": 9.6429, "type": "quantitative"}}},
          {"mark": {"type": "text", "text": "39.900250 GHz", "align": "left", "baseline": "middle", "fontSize": 9.5, "color": "#5e4b1e"}, "encoding": {"x": {"datum": 26.96, "type": "quantitative"}, "y": {"datum": 9.6429, "type": "quantitative"}}},
          {"mark": {"type": "text", "text": "-6.8023 dB", "align": "right", "baseline": "middle", "fontSize": 9.5, "color": "#5e4b1e"}, "encoding": {"x": {"datum": 39.1, "type": "quantitative"}, "y": {"datum": 9.6429, "type": "quantitative"}}},
          {"mark": {"type": "text", "text": "> 1:", "align": "left", "baseline": "middle", "fontSize": 9.5, "color": "#2b7f7f"}, "encoding": {"x": {"datum": 24.55, "type": "quantitative"}, "y": {"datum": 9.2063, "type": "quantitative"}}},
          {"mark": {"type": "text", "text": "40.000000 GHz", "align": "left", "baseline": "middle", "fontSize": 9.5, "color": "#2b7f7f"}, "encoding": {"x": {"datum": 26.96, "type": "quantitative"}, "y": {"datum": 9.2063, "type": "quantitative"}}},
          {"mark": {"type": "text", "text": "0.04015 dB", "align": "right", "baseline": "middle", "fontSize": 9.5, "color": "#2b7f7f"}, "encoding": {"x": {"datum": 39.1, "type": "quantitative"}, "y": {"datum": 9.2063, "type": "quantitative"}}},
          {"mark": {"type": "text", "text": "▽", "align": "center", "baseline": "bottom", "fontSize": 9, "color": "#3a2a10", "font": "DejaVu Sans", "dy": 1}, "encoding": {"x": {"datum": 39.9, "type": "quantitative"}, "y": {"datum": -6.8023, "type": "quantitative"}}},
          {"mark": {"type": "rule", "color": "#5a4012", "strokeWidth": 2}, "encoding": {"x": {"datum": 13.03, "type": "quantitative"}, "x2": {"datum": 13.99}, "y": {"datum": -10.516, "type": "quantitative"}}},
          {"mark": {"type": "rule", "color": "#1e8f8c", "strokeWidth": 2}, "encoding": {"x": {"datum": 14.25, "type": "quantitative"}, "x2": {"datum": 15.12}, "y": {"datum": -10.516, "type": "quantitative"}}}
        ]}
      ]},
      {"layer": [
        {"data": {"name": "traces"}, "mark": {"type": "line", "color": "#0d5252", "strokeWidth": 1.8},
         "encoding": {"x": {"field": "f", "type": "quantitative"},
           "y": {"field": "s21m", "type": "quantitative", "scale": {"domain": [-0.2867, 0.2986], "nice": false, "zero": false},
             "axis": {"values": [-0.25, -0.2, -0.15, -0.1, -0.05, 0, 0.05, 0.1, 0.15, 0.2, 0.25], "format": ".2f", "labelExpr": "replace(format(datum.value, '.2f'), '−', '-')", "orient": "left", "offset": -50, "labelPadding": 0, "labelBaseline": "top", "labelOffset": 1, "labelColor": "#2b7f7f", "labelFlush": false, "labelOverlap": false, "labelBound": false, "title": null}}}},
        {"data": {"name": "traces"}, "mark": {"type": "line", "color": "#2bb3ad", "strokeWidth": 0.9},
         "encoding": {"x": {"field": "f", "type": "quantitative"}, "y": {"field": "s21m", "type": "quantitative"}}},
        {"data": {"values": [{}]}, "layer": [
          {"mark": {"type": "text", "text": "▽", "align": "center", "baseline": "bottom", "fontSize": 9, "color": "#1e8f8c", "font": "DejaVu Sans", "dy": 1}, "encoding": {"x": {"datum": 40, "type": "quantitative"}, "y": {"datum": 0.04015, "type": "quantitative"}}},
          {"mark": {"type": "text", "text": "1", "align": "center", "baseline": "bottom", "fontSize": 9, "color": "#1e8f8c", "dy": -8}, "encoding": {"x": {"datum": 40, "type": "quantitative"}, "y": {"datum": 0.04015, "type": "quantitative"}}},
          {"mark": {"type": "text", "text": "▶", "align": "right", "baseline": "middle", "fontSize": 8, "color": "#1b6d6d", "font": "DejaVu Sans"}, "encoding": {"x": {"datum": 0.1, "type": "quantitative"}, "y": {"datum": 0, "type": "quantitative"}}},
          {"mark": {"type": "text", "text": "◀", "align": "left", "baseline": "middle", "fontSize": 8, "color": "#1e8f8c", "font": "DejaVu Sans"}, "encoding": {"x": {"datum": 40, "type": "quantitative"}, "y": {"datum": 0, "type": "quantitative"}}}
        ]}
      ]}
    ]
  },
  {
    "width": 520, "height": 590,
    "layer": [
      {"data": {"name": "xgrid"}, "mark": {"type": "rule", "color": "#111", "strokeWidth": 1.6},
       "encoding": {
         "x": {"field": "f", "type": "quantitative", "scale": {"domain": [-5.051, 40.348], "nice": false, "zero": false},
           "axis": {"values": [2.95, 39.75], "orient": "bottom", "offset": -21, "labelPadding": 0, "labelBaseline": "middle", "labelColor": "#111", "labelAlign": {"condition": {"test": "datum.value < 20", "value": "left"}, "value": "right"}, "labelExpr": "datum.value < 20 ? 'Ch1: Start\u00a0 100.000 MHz' : 'Stop\u00a0 40.0000 GHz'", "labelFlush": false, "labelOverlap": false, "labelBound": false, "title": null}},
         "y": {"datum": 5, "type": "quantitative", "scale": {"domain": [-5.734, 5.972], "nice": false, "zero": false},
           "axis": {"values": [-5, -4, -3, -2, -1, 0, 1, 2, 3, 4, 5], "format": ".2f", "labelExpr": "replace(format(datum.value, '.2f'), '−', '-')", "orient": "left", "offset": -54, "labelPadding": 0, "labelBaseline": "alphabetic", "labelOffset": -2, "labelColor": "#5e4b1e", "labelFlush": false, "labelOverlap": false, "labelBound": false, "title": null}},
         "y2": {"datum": -5}}},
      {"data": {"name": "deggrid"}, "mark": {"type": "rule", "color": "#111", "strokeWidth": 1.6},
       "encoding": {"y": {"field": "v", "type": "quantitative"}, "x": {"datum": 0.1, "type": "quantitative"}, "x2": {"datum": 40}}},
      {"data": {"name": "traces"}, "mark": {"type": "line", "color": "#3d2800", "strokeWidth": 1.8},
       "encoding": {"x": {"field": "f", "type": "quantitative"}, "y": {"field": "s12", "type": "quantitative"}}},
      {"data": {"name": "traces"}, "mark": {"type": "line", "color": "#b98a3a", "strokeWidth": 0.5},
       "encoding": {"x": {"field": "f", "type": "quantitative"}, "y": {"field": "s12", "type": "quantitative"}}},
      {"data": {"values": [{}]}, "layer": [
        {"mark": {"type": "rect", "fill": "#a86c1e"}, "encoding": {"x": {"datum": 2.021, "type": "quantitative"}, "x2": {"datum": 4.203}, "y": {"datum": 4.9663, "type": "quantitative"}, "y2": {"datum": 4.7222}}},
        {"mark": {"type": "text", "text": "Window 4", "align": "left", "baseline": "middle", "fontSize": 10, "color": "#000"}, "encoding": {"x": {"datum": -4.44, "type": "quantitative"}, "y": {"datum": 5.6548, "type": "quantitative"}}},
        {"mark": {"type": "text", "text": "(1) S12 / M\u00a0 deg", "align": "left", "baseline": "middle", "fontSize": 10, "color": "#5e4b1e"}, "encoding": {"x": {"datum": 0.187, "type": "quantitative"}, "y": {"datum": 5.6548, "type": "quantitative"}}},
        {"mark": {"type": "text", "text": "Phase C 2-Port", "align": "left", "baseline": "middle", "fontSize": 10, "color": "#5e4b1e"}, "encoding": {"x": {"datum": 0.187, "type": "quantitative"}, "y": {"datum": 5.3968, "type": "quantitative"}}},
        {"mark": {"type": "text", "text": "Tr4", "align": "left", "baseline": "middle", "fontSize": 10, "color": "#111"}, "encoding": {"x": {"datum": 0.449, "type": "quantitative"}, "y": {"datum": 4.871, "type": "quantitative"}}},
        {"mark": {"type": "text", "text": "S12", "align": "left", "baseline": "middle", "fontSize": 10, "fontWeight": "bold", "color": "#000"}, "encoding": {"x": {"datum": 2.571, "type": "quantitative"}, "y": {"datum": 4.871, "type": "quantitative"}}},
        {"mark": {"type": "text", "text": "> 1:", "align": "left", "baseline": "middle", "fontSize": 10, "color": "#2a2010"}, "encoding": {"x": {"datum": 24.78, "type": "quantitative"}, "y": {"datum": 4.871, "type": "quantitative"}}},
        {"mark": {"type": "text", "text": "40.000000 GHz", "align": "left", "baseline": "middle", "fontSize": 10, "color": "#2a2010"}, "encoding": {"x": {"datum": 27.49, "type": "quantitative"}, "y": {"datum": 4.871, "type": "quantitative"}}},
        {"mark": {"type": "text", "text": "829.53 m°", "align": "right", "baseline": "middle", "fontSize": 10, "color": "#2a2010"}, "encoding": {"x": {"datum": 39.62, "type": "quantitative"}, "y": {"datum": 4.871, "type": "quantitative"}}},
        {"mark": {"type": "text", "text": "▽", "align": "center", "baseline": "bottom", "fontSize": 9, "color": "#3a2a10", "font": "DejaVu Sans", "dy": 1}, "encoding": {"x": {"datum": 40, "type": "quantitative"}, "y": {"datum": 0.8295, "type": "quantitative"}}},
        {"mark": {"type": "text", "text": "1", "align": "center", "baseline": "bottom", "fontSize": 9, "color": "#3a2a10", "dy": -8}, "encoding": {"x": {"datum": 40, "type": "quantitative"}, "y": {"datum": 0.8295, "type": "quantitative"}}},
        {"mark": {"type": "text", "text": "▶", "align": "right", "baseline": "middle", "fontSize": 8, "color": "#3a2a10", "font": "DejaVu Sans"}, "encoding": {"x": {"datum": 0.1, "type": "quantitative"}, "y": {"datum": 0, "type": "quantitative"}}},
        {"mark": {"type": "text", "text": "◀", "align": "left", "baseline": "middle", "fontSize": 8, "color": "#3a2a10", "font": "DejaVu Sans"}, "encoding": {"x": {"datum": 40, "type": "quantitative"}, "y": {"datum": 0, "type": "quantitative"}}},
        {"mark": {"type": "rule", "color": "#6b4a10", "strokeWidth": 2}, "encoding": {"x": {"datum": 13.2, "type": "quantitative"}, "x2": {"datum": 14.24}, "y": {"datum": -5.258, "type": "quantitative"}}}
      ]}
    ]
  }
]
}
